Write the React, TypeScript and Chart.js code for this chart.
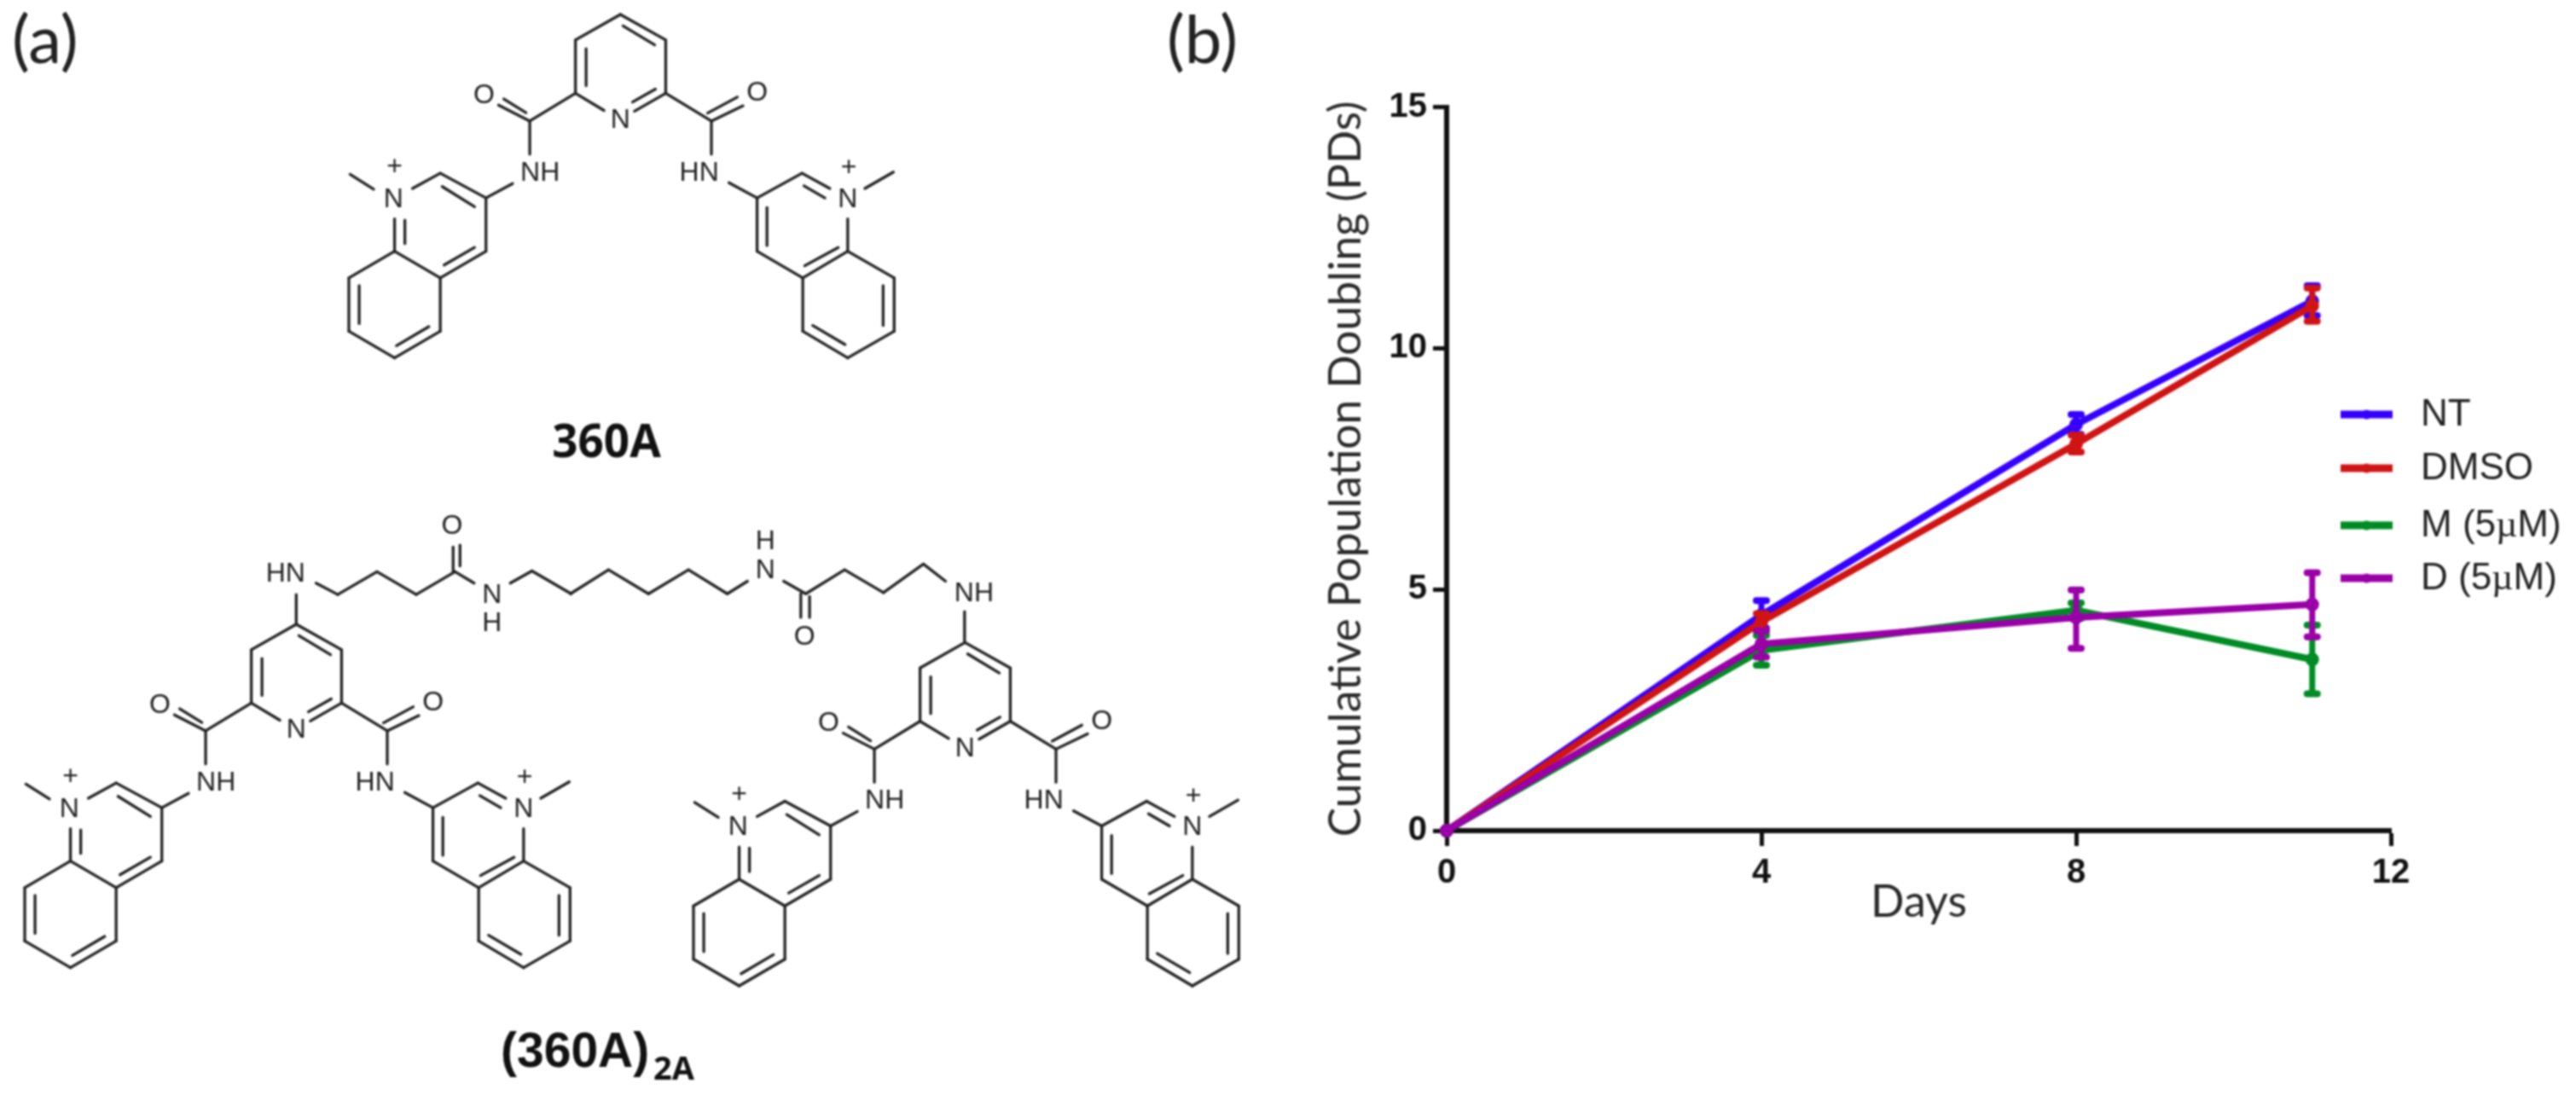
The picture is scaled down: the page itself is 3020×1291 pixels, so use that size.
import React, { useEffect, useRef } from "react";
import { Chart, registerables } from "chart.js";

Chart.register(...registerables);

// ---- chart data ----
const days = [0, 4, 8, 11];
const seriesNames = ["NT", "DMSO", "M (5µM)", "D (5µM)"];
const ntValues = [0, 4.47, 8.42, 10.98];
const ntUpper = [0, 4.77, 8.63, 11.3];
const ntLower = [0, 4.2, 8.22, 10.68];
const dmsoValues = [0, 4.33, 8.02, 10.88];
const dmsoUpper = [0, 4.5, 8.2, 11.25];
const dmsoLower = [0, 4.15, 7.85, 10.56];
const mValues = [0, 3.74, 4.57, 3.55];
const mUpper = [0, 4.05, 4.72, 4.26];
const mLower = [0, 3.43, 4.4, 2.84];
const dValues = [0, 3.87, 4.42, 4.69];
const dUpper = [0, 4.14, 4.99, 5.35];
const dLower = [0, 3.6, 3.78, 4.02];
const xAxisTitle = "Days";
const yAxisTitle = "Cumulative Population Doubling (PDs)";
const seriesColors = ["#3600ff", "#d01414", "#008c24", "#9a00a8"];

// ---- illustration (panel a): skeletal formula, in zoomed drawing units ----
type Seg = [number, number, number, number];
type Lab = [string, number, number];
const unitBonds: Seg[] = [
  [778, 38, 897, 105], [785, 68, 868, 118], [897, 105, 897, 245], [897, 245, 815, 292], [870, 234, 810, 268],
  [735, 290, 660, 245], [660, 245, 660, 105], [688, 128, 688, 225], [660, 105, 778, 38],
  [660, 245, 540, 318], [540, 318, 458, 276], [530, 296, 472, 260], [540, 318, 540, 405], [495, 482, 425, 520],
  [425, 520, 305, 455], [395, 543, 310, 490], [305, 455, 232, 495], [185, 575, 185, 660], [212, 578, 212, 640],
  [185, 660, 305, 730], [305, 730, 425, 660], [315, 696, 395, 650], [425, 660, 425, 520],
  [185, 660, 65, 730], [65, 730, 65, 870], [92, 750, 92, 850], [65, 870, 185, 940], [185, 940, 305, 870],
  [190, 908, 275, 858], [305, 870, 305, 730], [130, 497, 68, 458],
  [897, 245, 1017, 318], [1017, 318, 1100, 278], [1007, 297, 1085, 255], [1017, 318, 1017, 405], [1063, 480, 1137, 520],
  [1137, 520, 1255, 455], [1255, 455, 1328, 495], [1260, 488, 1315, 520], [1375, 575, 1375, 660], [1375, 660, 1257, 730],
  [1350, 650, 1262, 698], [1257, 730, 1137, 660], [1137, 660, 1137, 520], [1163, 645, 1163, 545],
  [1375, 660, 1497, 730], [1497, 730, 1497, 870], [1468, 750, 1468, 855], [1497, 870, 1375, 940], [1375, 940, 1257, 870],
  [1368, 905, 1283, 855], [1257, 870, 1257, 730], [1420, 495, 1495, 452],
];
const unitLabels: Lab[] = [
  ["N", 778, 315], ["O", 420, 248], ["O", 1137, 243], ["NH", 567, 452], ["HN", 985, 452],
  ["N", 182, 522], ["+", 185, 437], ["N", 1375, 522], ["+", 1378, 440],
];
const linkerLeft: Seg[] = [
  [778, 318, 778, 240], [830, 210, 887, 240], [887, 240, 990, 180], [990, 180, 1093, 240], [1093, 240, 1195, 180],
  [1190, 180, 1190, 115], [1208, 165, 1208, 110], [1195, 180, 1245, 210], [1340, 210, 1397, 178], [1397, 178, 1500, 238],
];
const linkerLeftLabels: Lab[] = [["HN", 750, 183], ["O", 1187, 58], ["N", 1292, 240], ["H", 1292, 315]];
const linkerRight: Seg[] = [
  [-70, 238, 30, 175], [30, 175, 135, 238], [135, 238, 240, 175], [240, 175, 342, 238], [342, 238, 395, 205],
  [490, 205, 548, 238], [548, 238, 650, 175], [650, 175, 752, 235], [752, 235, 857, 160], [857, 160, 915, 205],
  [535, 238, 535, 300], [558, 245, 558, 300], [965, 285, 965, 362],
];
const linkerRightLabels: Lab[] = [["N", 442, 175], ["H", 442, 100], ["O", 545, 350], ["NH", 990, 235]];

const ZOOM = 2.24;

function drawFormula(ctx: CanvasRenderingContext2D, segs: Seg[], labs: Lab[], ox: number, oy: number) {
  ctx.strokeStyle = "#222";
  ctx.lineWidth = 3.3;
  ctx.lineCap = "round";
  for (const [a, b, c, d] of segs) {
    ctx.beginPath();
    ctx.moveTo(ox + a / ZOOM, oy + b / ZOOM);
    ctx.lineTo(ox + c / ZOOM, oy + d / ZOOM);
    ctx.stroke();
  }
  ctx.fillStyle = "#222";
  ctx.font = '32px "Liberation Sans"';
  ctx.textAlign = "center";
  ctx.textBaseline = "middle";
  for (const [t, x, y] of labs) ctx.fillText(t, ox + x / ZOOM, oy + y / ZOOM + 1);
}

const illustration = {
  id: "illustration",
  afterDraw(chart: any) {
    const ctx: CanvasRenderingContext2D = chart.ctx;
    ctx.save();
    drawFormula(ctx, unitBonds, unitLabels, 380, 0);
    drawFormula(ctx, unitBonds, unitLabels, 0, 715);
    drawFormula(ctx, unitBonds, unitLabels, 784, 736.4);
    drawFormula(ctx, linkerLeft, linkerLeftLabels, 0, 590);
    drawFormula(ctx, linkerRight, linkerRightLabels, 700, 590);

    ctx.fillStyle = "#222";
    ctx.textAlign = "left";
    ctx.textBaseline = "alphabetic";
    ctx.font = '78px Lato';
    ctx.fillText("(a)", 14, 74);
    ctx.fillText("(b)", 1368, 74);
    ctx.fillStyle = "#111";
    ctx.font = 'bold 53px "Open Sans"';
    ctx.textAlign = "center";
    ctx.fillText("360A", 711, 536);
    ctx.textAlign = "left";
    ctx.font = 'bold 57px "Liberation Sans"';
    ctx.fillText("(360A)", 587, 1251);
    ctx.font = 'bold 38px "Open Sans"';
    ctx.fillText("2A", 766, 1266);
    ctx.restore();
  },
};

// ---- error bars, drawn right after their own series ----
const errorBars = {
  id: "errorBars",
  afterDatasetDraw(chart: any, args: any) {
    const ds = chart.data.datasets[args.index];
    const { x: xs, y: ys } = chart.scales;
    const ctx: CanvasRenderingContext2D = chart.ctx;
    ctx.save();
    ctx.strokeStyle = ds.borderColor;
    ctx.lineCap = "round";
    days.forEach((d, i) => {
      if (ds.upper[i] === ds.lower[i]) return;
      const px = xs.getPixelForValue(d);
      const top = ys.getPixelForValue(ds.upper[i]);
      const bot = ys.getPixelForValue(ds.lower[i]);
      ctx.lineWidth = 7;
      ctx.beginPath();
      ctx.moveTo(px, top);
      ctx.lineTo(px, bot);
      ctx.stroke();
      ctx.lineWidth = 8;
      for (const p of [top, bot]) {
        ctx.beginPath();
        ctx.moveTo(px - 6, p);
        ctx.lineTo(px + 6, p);
        ctx.stroke();
      }
    });
    ctx.restore();
  },
};

// ---- legend, placed to the right of the plot like the reference ----
const legendRows = [486, 549, 616, 678];
const sideLegend = {
  id: "sideLegend",
  afterDraw(chart: any) {
    const ctx: CanvasRenderingContext2D = chart.ctx;
    ctx.save();
    chart.data.datasets.forEach((ds: any, i: number) => {
      const y = legendRows[i];
      ctx.fillStyle = ds.borderColor;
      ctx.fillRect(2744, y - 4.5, 61, 9);
      ctx.beginPath();
      ctx.arc(2774.5, y, 5.5, 0, Math.PI * 2);
      ctx.fill();
      ctx.fillStyle = "#222";
      ctx.textAlign = "left";
      ctx.textBaseline = "middle";
      const parts = ds.label.split("µ");
      let x = 2838;
      parts.forEach((p: string, k: number) => {
        ctx.font = '44px "Liberation Sans"';
        ctx.fillText(p, x, y + 1);
        x += ctx.measureText(p).width;
        if (k < parts.length - 1) {
          ctx.font = '44px "Liberation Serif"';
          ctx.fillText("µ", x, y + 1);
          x += ctx.measureText("µ").width;
        }
      });
    });
    ctx.restore();
  },
};

const AXIS = "#111";
const TEXT = "#2a2a2a";

export default function App() {
  const ref = useRef<HTMLCanvasElement>(null);
  useEffect(() => {
    document.body.style.margin = "0";
    document.body.style.background = "#fff";
    const make = (
      i: number,
      values: number[],
      upper: number[],
      lower: number[],
      order: number,
    ) => ({
      label: seriesNames[i],
      data: days.map((d, k) => ({ x: d, y: values[k] })),
      upper,
      lower,
      borderColor: seriesColors[i],
      backgroundColor: seriesColors[i],
      borderWidth: 8,
      pointRadius: 4,
      pointHoverRadius: 4,
      tension: 0,
      clip: false,
      order,
    });
    const chart = new Chart(ref.current!, {
      type: "line",
      data: {
        datasets: [
          make(0, ntValues, ntUpper, ntLower, 4),
          make(1, dmsoValues, dmsoUpper, dmsoLower, 3),
          make(2, mValues, mUpper, mLower, 2),
          make(3, dValues, dUpper, dLower, 1),
        ] as any,
      },
      options: {
        animation: false,
        responsive: false,
        devicePixelRatio: 1,
        layout: { padding: { left: 1545, right: 217, top: 125.7, bottom: 202 } },
        plugins: { legend: { display: false }, tooltip: { enabled: false } },
        scales: {
          x: {
            type: "linear",
            min: 0,
            max: 12,
            afterFit: (s: any) => { s.height = 115; },
            border: { color: AXIS, width: 6 },
            grid: { drawOnChartArea: false, drawTicks: true, tickLength: 18, tickColor: AXIS, tickWidth: 5 },
            ticks: { stepSize: 4, color: "#111", padding: 8, maxRotation: 0, font: { family: "Liberation Sans", size: 40, weight: "bold" } },
            title: { display: true, text: xAxisTitle, color: TEXT, align: "center", padding: { top: 0, bottom: 0 }, font: { family: "Lato", size: 52 } },
          },
          y: {
            type: "linear",
            min: 0,
            max: 15,
            afterFit: (s: any) => { s.width = 151; },
            border: { color: AXIS, width: 6 },
            grid: { drawOnChartArea: false, drawTicks: true, tickLength: 16, tickColor: AXIS, tickWidth: 5 },
            ticks: { stepSize: 5, color: "#111", padding: 7, font: { family: "Liberation Sans", size: 40, weight: "bold" } },
            title: { display: true, text: yAxisTitle, color: TEXT, align: "center", padding: { top: 2, bottom: 0 }, font: { family: "Lato", size: 51.5 } },
          },
        },
      } as any,
      plugins: [errorBars, sideLegend, illustration],
    });
    return () => chart.destroy();
  }, []);
  return (
    <canvas
      ref={ref}
      width={3020}
      height={1291}
      style={{ position: "absolute", left: 0, top: 0, width: 3020, height: 1291, display: "block", filter: "blur(0.8px)" }}
    />
  );
}
